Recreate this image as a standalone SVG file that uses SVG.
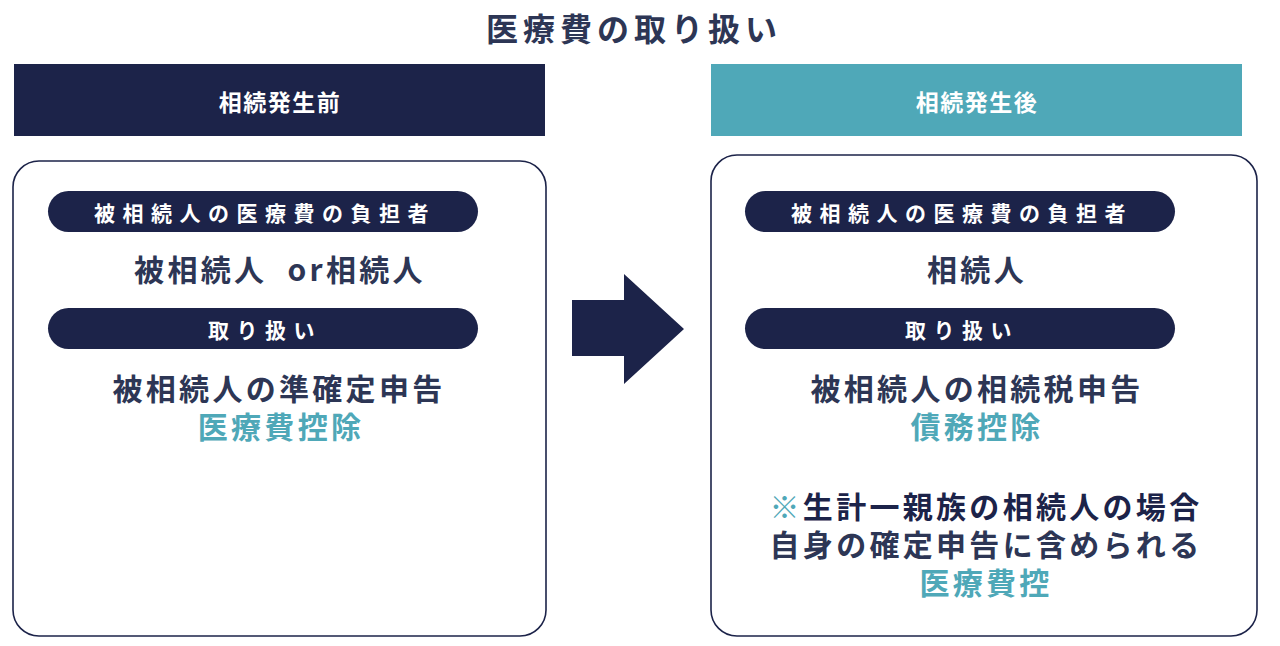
<svg xmlns="http://www.w3.org/2000/svg" width="1280" height="646" viewBox="0 0 1280 646">
<style>
text{font-family:"Noto Sans CJK JP","Noto Sans",sans-serif;font-weight:700;text-anchor:middle;dominant-baseline:central}
.title{font-size:32px;fill:#2d3655;letter-spacing:5px}
.hdr{font-size:23px;fill:#ffffff;letter-spacing:1.5px}
.pill{fill:#1c2349}
.pt{font-size:21px;fill:#ffffff;letter-spacing:7.5px}
.body{font-size:30px;fill:#2d3655;letter-spacing:3.3px}
.dark{fill:#1c2349}
.teal{fill:#4fa8b8}
.box{fill:#ffffff;stroke:#1c2349;stroke-width:1.6}
</style>
<rect width="1280" height="646" fill="#ffffff"/>
<text id="title" class="title" x="634" y="27">医療費の取り扱い</text>

<g id="before">
  <rect x="14" y="64" width="531" height="72" fill="#1c2349"/>
  <text class="hdr" x="280" y="101">相続発生前</text>
  <rect class="box" x="13" y="161" width="533" height="475" rx="26"/>
  <rect class="pill" x="48" y="191" width="430" height="41" rx="20.5"/>
  <text class="pt" x="265" y="212">被相続人の医療費の負担者</text>
  <text class="body" x="280" y="268" xml:space="preserve">被相続人  or相続人</text>
  <rect class="pill" x="48" y="308" width="430" height="41" rx="20.5"/>
  <text class="pt" x="265" y="329">取り扱い</text>
  <text class="body" x="279" y="387">被相続人の準確定申告</text>
  <text class="body teal" x="281" y="425">医療費控除</text>
</g>

<g id="connectors">
  <polygon points="572,300 624,300 624,274 684,329 624,384 624,356 572,356" fill="#1c2349"/>
</g>

<g id="after">
  <rect x="711" y="64" width="531" height="72" fill="#4fa8b8"/>
  <text class="hdr" x="977" y="101">相続発生後</text>
  <rect class="box" x="711" y="155" width="546" height="481" rx="26"/>
  <rect class="pill" x="745" y="191" width="430" height="41" rx="20.5"/>
  <text class="pt" x="962" y="212">被相続人の医療費の負担者</text>
  <text class="body" x="977" y="268">相続人</text>
  <rect class="pill" x="745" y="308" width="430" height="41" rx="20.5"/>
  <text class="pt" x="962" y="329">取り扱い</text>
  <text class="body" x="977" y="387">被相続人の相続税申告</text>
  <text class="body teal" x="977" y="425">債務控除</text>
  <text class="body dark" x="986" y="505"><tspan class="teal">※</tspan>生計一親族の相続人の場合</text>
  <text class="body" x="986" y="543">自身の確定申告に含められる</text>
  <text class="body teal" x="986" y="581">医療費控</text>
</g>
</svg>
